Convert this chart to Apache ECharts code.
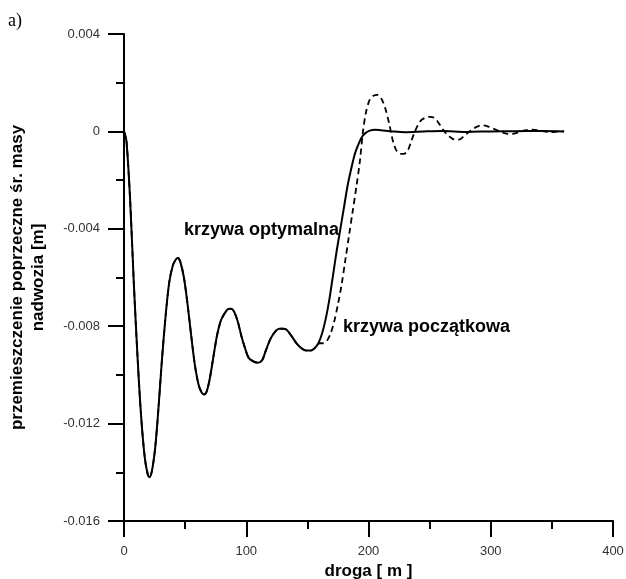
<!DOCTYPE html>
<html><head><meta charset="utf-8">
<script src="https://cdn.jsdelivr.net/npm/echarts@6/dist/echarts.min.js"></script>
<style>html,body{margin:0;padding:0;background:#fff}#c{width:626px;height:579px}</style>
</head><body><div id="c"></div>
<script>
// x in metres (droga), y in metres (przemieszczenie)
const xTicks = [0, 100, 200, 300, 400];
const yTicks = [-0.016, -0.012, -0.008, -0.004, 0, 0.004];

const optX = [0,2,5,8,11,14,17,19.5,21,23,25.5,28,31,34,37,40,42.5,44,46,49,52,55,58,61,63.5,65.5,67.5,70,73,76,79,82,85,87.5,90,93,96,99,102,106,109.5,113,116,120,124,127,130,133,137,141,145,149,153,156,159,162,165,168,171,174,177,180,183,186,189,192,195,198,201,205,210,220,230,245,260,280,300,320,340,360];
const optY = [0,-0.0004,-0.0028,-0.0062,-0.0092,-0.0117,-0.0134,-0.0141,-0.0142,-0.0139,-0.0130,-0.0115,-0.0094,-0.0076,-0.0062,-0.0055,-0.00525,-0.0052,-0.00535,-0.0060,-0.0071,-0.0084,-0.0096,-0.0104,-0.01072,-0.0108,-0.0107,-0.0102,-0.0093,-0.0084,-0.0078,-0.0075,-0.0073,-0.00728,-0.0074,-0.0078,-0.0084,-0.0089,-0.0093,-0.00945,-0.0095,-0.0094,-0.0090,-0.0085,-0.0082,-0.0081,-0.0081,-0.00815,-0.0084,-0.0087,-0.0089,-0.0090,-0.0090,-0.0089,-0.0087,-0.0083,-0.0077,-0.0069,-0.0059,-0.0049,-0.0040,-0.0031,-0.0022,-0.0015,-0.0009,-0.0005,-0.0002,-0.00005,0.00003,0.00007,0.00005,0.0,-0.00003,0.0,0.00002,-0.00002,0,0.00001,0.00002,0];

const initX = [0,2,5,8,11,14,17,19.5,21,23,25.5,28,31,34,37,40,42.5,44,46,49,52,55,58,61,63.5,65.5,67.5,70,73,76,79,82,85,87.5,90,93,96,99,102,106,109.5,113,116,120,124,127,130,133,137,141,145,149,153,156,160,163,166,169,172,175,178,181,184,187,190,193,195.5,198,201,204,207.5,211,214,217,220,223,226,229,232,235,238,242,246,250,254,258,262,266,270,274,278,282,286,290,294,298,302,306,310,314,318,322,326,330,334,338,344,350,356,360];
const initY = [0,-0.0004,-0.0028,-0.0062,-0.0092,-0.0117,-0.0134,-0.0141,-0.0142,-0.0139,-0.0130,-0.0115,-0.0094,-0.0076,-0.0062,-0.0055,-0.00525,-0.0052,-0.00535,-0.0060,-0.0071,-0.0084,-0.0096,-0.0104,-0.01072,-0.0108,-0.0107,-0.0102,-0.0093,-0.0084,-0.0078,-0.0075,-0.0073,-0.00728,-0.0074,-0.0078,-0.0084,-0.0089,-0.0093,-0.00945,-0.0095,-0.0094,-0.0090,-0.0085,-0.0082,-0.0081,-0.0081,-0.00815,-0.0084,-0.0087,-0.0089,-0.0090,-0.0090,-0.0089,-0.0087,-0.0087,-0.0086,-0.0083,-0.0078,-0.0071,-0.0063,-0.0053,-0.0043,-0.0033,-0.0023,-0.0012,0.0000,0.0008,0.0013,0.00146,0.0015,0.0013,0.0009,0.0003,-0.0004,-0.0008,-0.00092,-0.00092,-0.0008,-0.0004,0.0000,0.0004,0.00055,0.0006,0.00055,0.0003,0.0000,-0.0002,-0.00033,-0.00034,-0.0002,-0.00003,0.00012,0.00022,0.00025,0.0002,0.00012,0.00003,-0.00005,-0.0001,-0.0001,-0.00005,0.00002,0.00006,0.00007,0.00005,0.0,-0.00003,0.0,0.0];

const seriesNames = ['krzywa optymalna', 'krzywa początkowa'];
const xName = 'droga [ m ]';
const yName = 'przemieszczenie poprzeczne śr. masy\nnadwozia [m]';

const zip = (a, b) => a.map((v, i) => [v, b[i]]);
const chart = echarts.init(document.getElementById('c'), null, {renderer: 'canvas'});
const axisCommon = {
  axisLine: {show: true, onZero: false, lineStyle: {color: '#000', width: 2}},
  axisTick: {show: true, inside: false, length: 16, lineStyle: {color: '#000', width: 2}},
  minorTick: {show: true, splitNumber: 2, length: 8, lineStyle: {color: '#000', width: 2}},
  splitLine: {show: false},
  axisLabel: {color: '#333', fontFamily: 'Liberation Sans, Arial, sans-serif', fontSize: 13, margin: 24}
};
chart.setOption({
  animation: false,
  grid: {left: 124, right: 13, top: 34, bottom: 58, containLabel: false, outerBoundsMode: 'none'},
  xAxis: Object.assign({}, axisCommon, {
    type: 'value', min: xTicks[0], max: xTicks[xTicks.length - 1], interval: 100,
    name: xName, nameLocation: 'middle', nameGap: 42,
    nameTextStyle: {color: '#000', fontWeight: 'bold', fontSize: 17, fontFamily: 'Liberation Sans, Arial, sans-serif'}
  }),
  yAxis: Object.assign({}, axisCommon, {
    type: 'value', min: yTicks[0], max: yTicks[yTicks.length - 1], interval: 0.004,
    axisLabel: Object.assign({}, axisCommon.axisLabel, {formatter: v => (Math.abs(v) < 1e-12 ? '0' : (+v.toFixed(3)).toString())}),
    name: yName, nameLocation: 'middle', nameGap: 75, nameRotate: 90,
    nameTextStyle: {color: '#000', fontWeight: 'bold', fontSize: 17, lineHeight: 21, align: 'center', fontFamily: 'Liberation Sans, Arial, sans-serif'}
  }),
  series: [
    {name: seriesNames[1], type: 'line', data: zip(initX, initY), showSymbol: false, smooth: 0.3, z: 2,
     lineStyle: {color: '#000', width: 1.8, type: [6, 4]}},
    {name: seriesNames[0], type: 'line', data: zip(optX, optY), showSymbol: false, smooth: 0.3, z: 3,
     lineStyle: {color: '#000', width: 2}}
  ],
  graphic: [
    {type: 'text', left: 8, top: 12, style: {text: 'a)', font: '18px "Liberation Serif", serif', fill: '#000'}},
    {type: 'text', left: 184, top: 221, style: {text: seriesNames[0], font: 'bold 18px "Liberation Sans", Arial, sans-serif', fill: '#000'}},
    {type: 'text', left: 343, top: 318, style: {text: seriesNames[1], font: 'bold 18px "Liberation Sans", Arial, sans-serif', fill: '#000'}}
  ]
});
</script></body></html>
